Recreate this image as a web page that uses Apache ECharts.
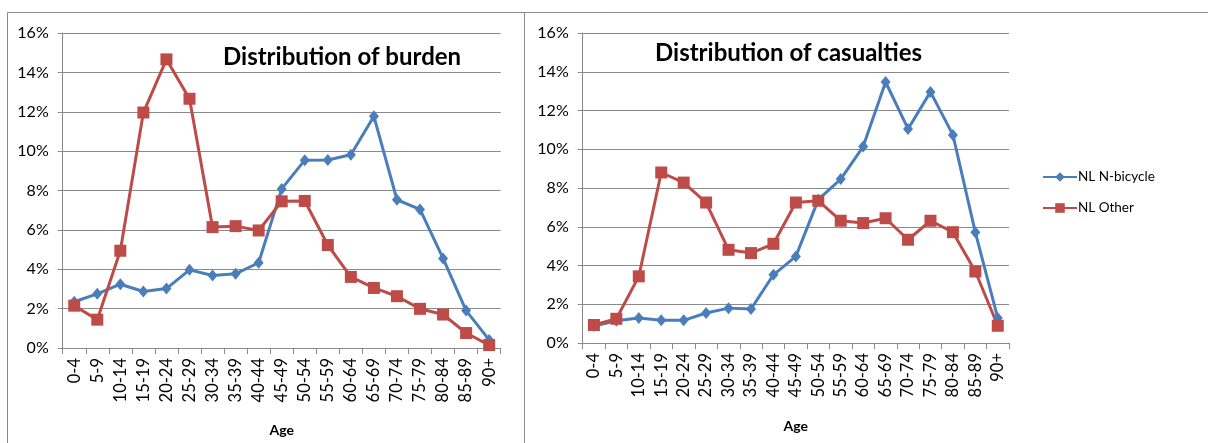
<!DOCTYPE html>
<html>
<head>
<meta charset="utf-8">
<script src="https://cdn.jsdelivr.net/npm/echarts@6/dist/echarts.min.js"></script>
<style>
  html, body { margin: 0; padding: 0; background: #fff; }
  #chart { width: 1208px; height: 443px; }
</style>
</head>
<body>
<div id="chart"></div>
<script>
var ages = ['0-4', '5-9', '10-14', '15-19', '20-24', '25-29', '30-34', '35-39', '40-44', '45-49',
  '50-54', '55-59', '60-64', '65-69', '70-74', '75-79', '80-84', '85-89', '90+'];

// Distribution of burden (%)
var burdenBicycle = [2.35, 2.75, 3.24, 2.87, 3.02, 3.97, 3.68, 3.77, 4.33, 8.08,
  9.54, 9.55, 9.82, 11.77, 7.53, 7.04, 4.55, 1.9, 0.41];
var burdenOther = [2.15, 1.44, 4.94, 11.96, 14.66, 12.66, 6.14, 6.19, 5.97, 7.45,
  7.47, 5.23, 3.61, 3.05, 2.63, 1.99, 1.7, 0.76, 0.15];

// Distribution of casualties (%)
var casualtyBicycle = [0.88, 1.15, 1.29, 1.17, 1.17, 1.55, 1.8, 1.75, 3.52, 4.47,
  7.4, 8.46, 10.14, 13.47, 11.05, 12.96, 10.74, 5.71, 1.29];
var casualtyOther = [0.93, 1.25, 3.44, 8.8, 8.28, 7.25, 4.81, 4.64, 5.12, 7.25,
  7.34, 6.31, 6.19, 6.44, 5.33, 6.31, 5.72, 3.69, 0.89];

var blue = '#4a7ebb';
var red = '#be4b48';
var gray = '#8a8a8a';
var font = 'Lato';

function xAxisFor (gridIndex, gap) {
  return {
    type: 'category',
    gridIndex: gridIndex,
    data: ages,
    boundaryGap: true,
    name: 'Age',
    nameLocation: 'middle',
    nameGap: gap,
    nameTextStyle: { fontFamily: font, fontWeight: 'bold', fontSize: 14, color: '#000' },
    axisLine: { lineStyle: { color: gray, width: 1 } },
    axisTick: { show: true, length: 6, lineStyle: { color: gray } },
    axisLabel: { rotate: 90, fontFamily: font, fontSize: 16.5, color: '#000', margin: 10, interval: 0 },
    splitLine: { show: false }
  };
}

function yAxisFor (gridIndex) {
  return {
    type: 'value',
    gridIndex: gridIndex,
    min: 0,
    max: 16,
    interval: 2,
    axisLine: { show: true, lineStyle: { color: gray, width: 1 } },
    axisTick: { show: true, length: 5, lineStyle: { color: gray } },
    axisLabel: { formatter: '{value}%', fontFamily: font, fontSize: 16, color: '#000', margin: 14 },
    splitLine: { lineStyle: { color: gray, width: 1 } }
  };
}

function lineSeries (name, data, color, symbol, size, axisIndex) {
  return {
    name: name,
    type: 'line',
    xAxisIndex: axisIndex,
    yAxisIndex: axisIndex,
    data: data,
    symbol: symbol,
    symbolSize: size,
    showAllSymbol: true,
    lineStyle: { color: color, width: 3 },
    itemStyle: { color: color },
    emphasis: { disabled: true },
    animation: false
  };
}

var myChart = echarts.init(document.getElementById('chart'));
var option;

option = {
  animation: false,
  textStyle: { fontFamily: font },
  title: [
    { text: 'Distribution of burden', left: 218, top: 40,
      textStyle: { fontFamily: font, fontWeight: 'bold', fontSize: 24, color: '#000' } },
    { text: 'Distribution of casualties', left: 650, top: 36,
      textStyle: { fontFamily: font, fontWeight: 'bold', fontSize: 24, color: '#000' } }
  ],
  legend: {
    orient: 'vertical',
    left: 1037,
    top: 165,
    itemWidth: 34,
    itemHeight: 12,
    itemGap: 17,
    textStyle: { fontFamily: font, fontSize: 13.5, color: '#000', padding: [0, 0, 0, -4] },
    data: ['NL N-bicycle', 'NL Other']
  },
  grid: [
    { left: 62.7, top: 33, width: 438, height: 315, outerBoundsMode: 'none' },
    { left: 582.7, top: 33, width: 426.3, height: 310, outerBoundsMode: 'none' }
  ],
  xAxis: [xAxisFor(0, 75), xAxisFor(1, 76)],
  yAxis: [yAxisFor(0), yAxisFor(1)],
  series: [
    lineSeries('NL N-bicycle', burdenBicycle, blue, 'diamond', [10, 12], 0),
    lineSeries('NL Other', burdenOther, red, 'rect', 12, 0),
    lineSeries('NL N-bicycle', casualtyBicycle, blue, 'diamond', [10, 12], 1),
    lineSeries('NL Other', casualtyOther, red, 'rect', 12, 1)
  ],
  graphic: [
    { type: 'polyline', silent: true,
      shape: { points: [[7.5, 443], [7.5, 12.5], [1208, 12.5]] },
      style: { stroke: gray, fill: null, lineWidth: 1 } },
    { type: 'line', silent: true,
      shape: { x1: 524.5, y1: 12.5, x2: 524.5, y2: 443 },
      style: { stroke: gray, lineWidth: 1 } }
  ]
};

option && myChart.setOption(option);
</script>
</body>
</html>
